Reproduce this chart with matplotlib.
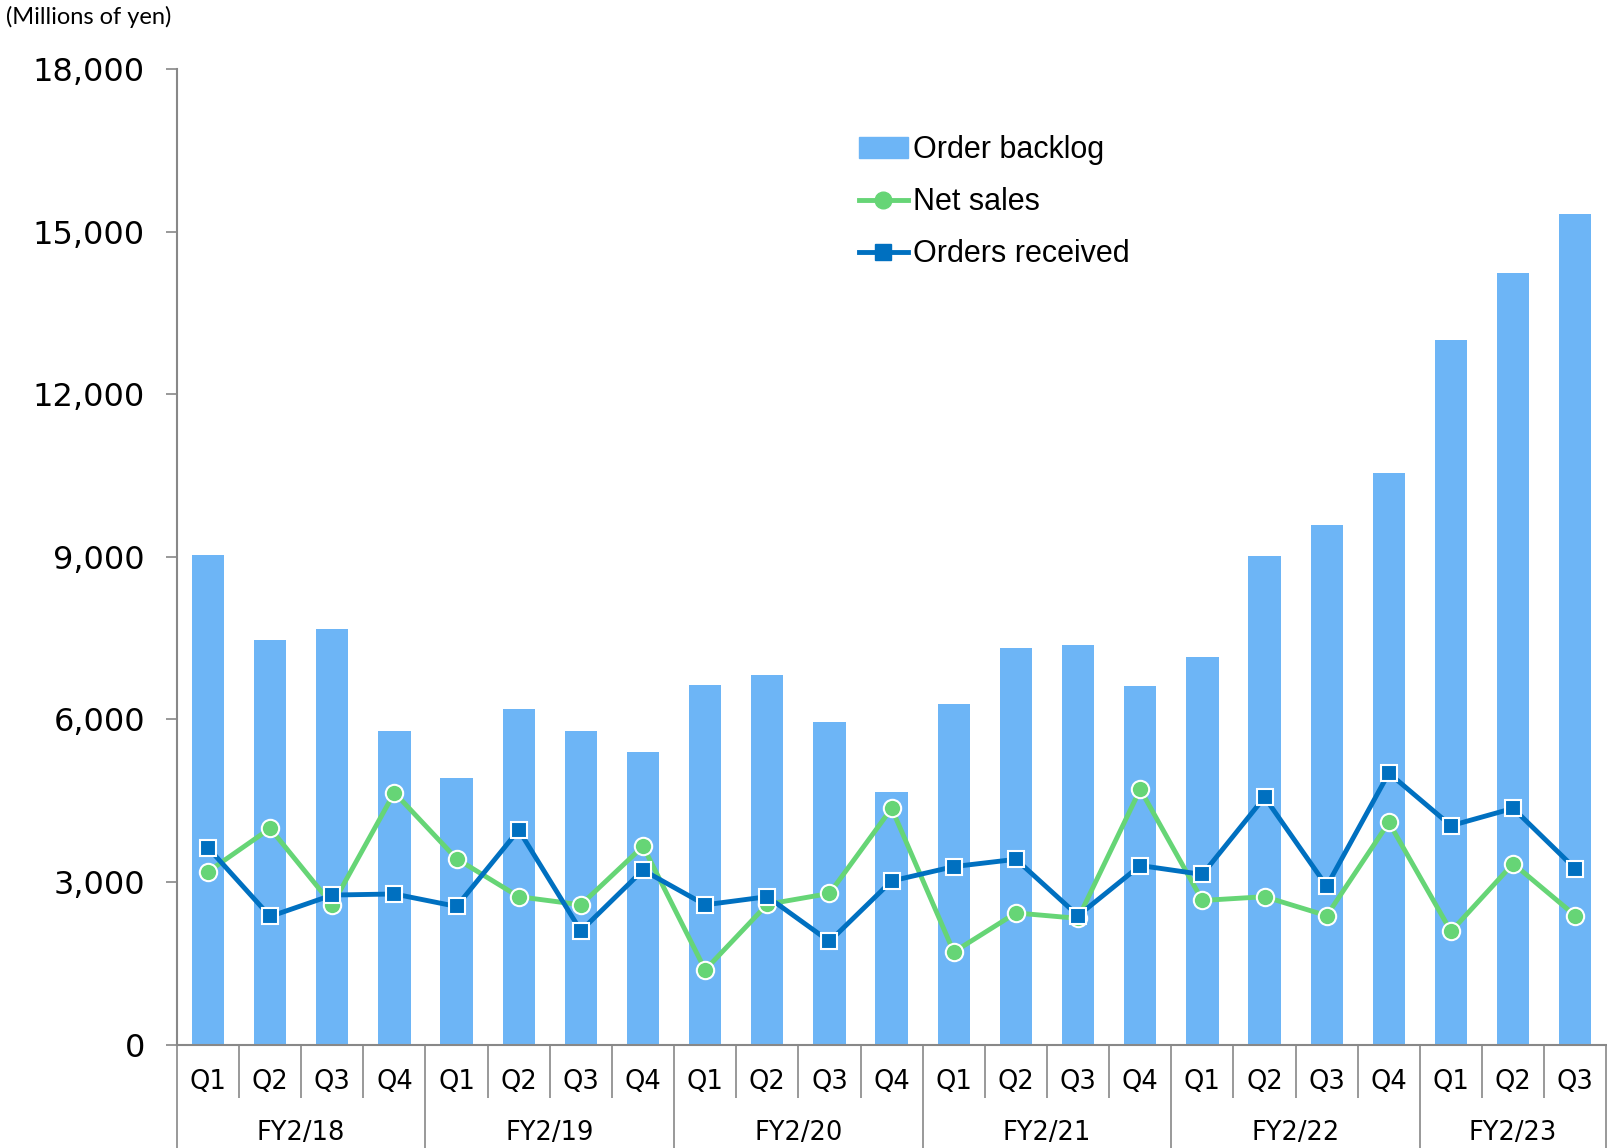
import matplotlib.pyplot as plt
import matplotlib.patches as mpatches
from matplotlib.lines import Line2D

# Quarterly data (millions of yen)
years = ["FY2/18", "FY2/19", "FY2/20", "FY2/21", "FY2/22", "FY2/23"]
quarters_per_year = [4, 4, 4, 4, 4, 3]
quarter_labels = ["Q1", "Q2", "Q3", "Q4"] * 5 + ["Q1", "Q2", "Q3"]

backlog = [9040, 7460, 7660, 5780, 4920, 6200, 5780, 5400,
           6640, 6820, 5960, 4670, 6290, 7320, 7370, 6610,
           7160, 9010, 9590, 10550, 13000, 14240, 15320]
net_sales = [3190, 3990, 2580, 4650, 3430, 2730, 2580, 3660,
             1380, 2590, 2790, 4360, 1710, 2430, 2330, 4710,
             2660, 2730, 2380, 4100, 2090, 3340, 2380]
orders = [3635, 2365, 2760, 2780, 2550, 3960, 2100, 3220,
          2580, 2730, 1905, 3020, 3285, 3420, 2380, 3305,
          3140, 4565, 2925, 5010, 4040, 4360, 3245]

bar_color = "#6DB5F6"
green = "#66D576"
blue = "#0070C0"
grey = "#888888"

fig = plt.figure(figsize=(16.08, 11.48), dpi=100)
ax = fig.add_axes([0.110, 0.090, 0.889, 0.850])

x = list(range(len(backlog)))
ax.bar(x, backlog, width=0.52, color=bar_color, zorder=1)
ax.plot(x, net_sales, color=green, lw=3.5, marker="o", markersize=12.5,
        markerfacecolor=green, markeredgecolor="white", markeredgewidth=1.5, zorder=3)
ax.plot(x, orders, color=blue, lw=3.5, marker="s", markersize=11.5,
        markerfacecolor=blue, markeredgecolor="white", markeredgewidth=1.5, zorder=4)

ax.set_xlim(-0.5, len(backlog) - 0.5)
ax.set_ylim(0, 18000)
ax.set_yticks(range(0, 18001, 3000))
ax.set_yticklabels([f"{v:,}" for v in range(0, 18001, 3000)],
                   fontsize=23, family="DejaVu Sans")
ax.tick_params(axis="y", length=8, width=1.2, color=grey, pad=15)

for side in ["top", "right"]:
    ax.spines[side].set_visible(False)
for side in ["left", "bottom"]:
    ax.spines[side].set_color(grey)
    ax.spines[side].set_linewidth(1.5)

# category axis: quarter separators (minor) and year separators (major)
bounds = [-0.5]
for n in quarters_per_year:
    bounds.append(bounds[-1] + n)
ax.set_xticks(bounds)
ax.set_xticks([b + 0.5 for b in x[:-1]], minor=True)
ax.set_xticklabels([])
ax.tick_params(axis="x", which="major", length=75, width=1.2, color=grey)
ax.tick_params(axis="x", which="minor", length=38, width=1.2, color=grey)

tr = ax.get_xaxis_transform()
for i, q in enumerate(quarter_labels):
    ax.text(i, -0.038, q, transform=tr, ha="center", va="center",
            fontsize=18.5, family="DejaVu Sans")
for k, yr in enumerate(years):
    mid = (bounds[k] + bounds[k + 1]) / 2
    ax.text(mid, -0.091, yr, transform=tr, ha="center", va="center",
            fontsize=18.5, family="DejaVu Sans")

fig.text(0.004, 0.985, "(Millions of yen)", ha="left", va="center",
         fontsize=17, family="Lato")

handles = [
    mpatches.Patch(color=bar_color),
    Line2D([], [], color=green, lw=3.5, marker="o", markersize=12,
           markerfacecolor=green, markeredgecolor=green),
    Line2D([], [], color=blue, lw=3.5, marker="s", markersize=11,
           markerfacecolor=blue, markeredgecolor=blue),
]
fig.legend(handles, ["Order backlog", "Net sales", "Orders received"],
           loc="upper left", bbox_to_anchor=(0.517, 0.906), frameon=False,
           prop={"family": "Liberation Sans", "size": 22},
           handlelength=1.6, handletextpad=0.18, labelspacing=0.72, numpoints=1)

fig.savefig("out.png", dpi=100)
